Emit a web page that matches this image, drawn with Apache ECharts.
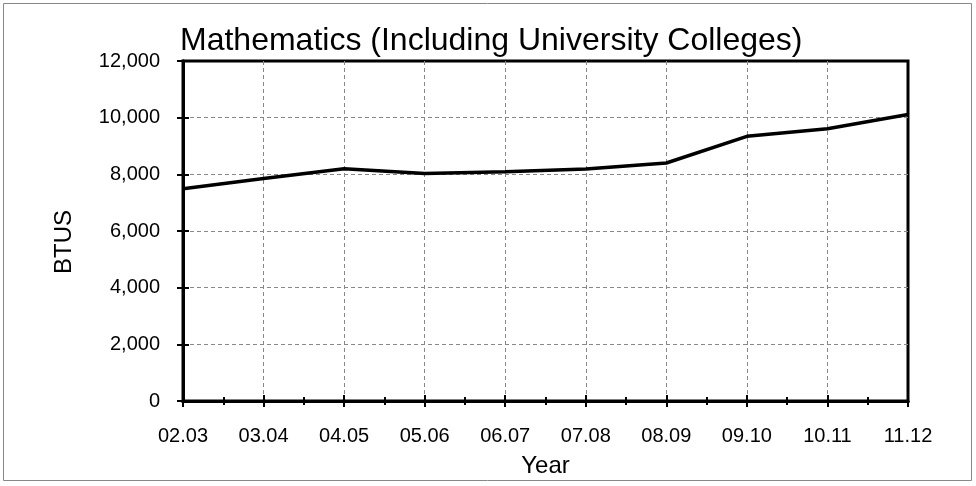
<!DOCTYPE html>
<html><head><meta charset="utf-8">
<script src="https://cdn.jsdelivr.net/npm/echarts@6/dist/echarts.min.js"></script>
<style>html,body{margin:0;padding:0;background:#fff}#c{width:976px;height:486px}</style>
</head><body><div id="c"></div>
<script>
const categories = ['02.03','03.04','04.05','05.06','06.07','07.08','08.09','09.10','10.11','11.12'];
const btus = [7490, 7850, 8200, 8030, 8090, 8190, 8400, 9340, 9610, 10110];
const yTicks = [0, 2000, 4000, 6000, 8000, 10000, 12000];

const FONT = '"Liberation Sans", Arial, sans-serif';
const chart = echarts.init(document.getElementById('c'), null, {renderer: 'canvas'});
const xBase = {
  type: 'value', min: 0, max: categories.length - 1, interval: 1, position: 'bottom',
  axisLine: {show: true, onZero: false, lineStyle: {color: '#000', width: 3}}
};
const yBase = {
  type: 'value', min: yTicks[0], max: yTicks[yTicks.length - 1], interval: yTicks[1] - yTicks[0], position: 'left',
  axisLine: {show: true, lineStyle: {color: '#000', width: 3}}
};
const split = {show: true, showMinLine: false, showMaxLine: false, lineStyle: {color: '#888', type: [4, 3], width: 1}};
chart.setOption({
  animation: false,
  title: {
    text: 'Mathematics (Including University Colleges)', left: 180, top: 25, padding: 0,
    textStyle: {fontFamily: FONT, fontSize: 32, fontWeight: 'normal', color: '#000'}
  },
  graphic: [
    {type: 'rect', shape: {x: 3.5, y: 3.5, width: 968, height: 477}, style: {fill: null, stroke: '#888', lineWidth: 1}},
    {type: 'text', x: 64, y: 242, rotation: Math.PI / 2,
      style: {text: 'BTUS', align: 'center', verticalAlign: 'middle', fill: '#000', font: '24px "Liberation Sans", Arial, sans-serif'}}
  ],
  grid: {left: 183, right: 68, top: 61, bottom: 85, show: true, borderColor: '#000', borderWidth: 3, backgroundColor: 'transparent'},
  xAxis: [
    Object.assign({}, xBase, {
      name: 'Year', nameLocation: 'middle', nameGap: 53,
      nameTextStyle: {fontFamily: FONT, fontSize: 24, color: '#000'},
      axisTick: {show: true, inside: false, length: 6, lineStyle: {color: '#000', width: 2}},
      minorTick: {show: true, splitNumber: 2, length: 4, lineStyle: {color: '#000', width: 2}},
      axisLabel: {fontFamily: FONT, fontSize: 20, color: '#000', margin: 25, formatter: v => categories[v] || ''},
      splitLine: split
    }),
    Object.assign({}, xBase, {
      axisTick: {show: true, inside: true, length: 6, lineStyle: {color: '#000', width: 2}},
      minorTick: {show: true, splitNumber: 2, length: 4, lineStyle: {color: '#000', width: 2}},
      axisLabel: {show: false}, splitLine: {show: false}
    })
  ],
  yAxis: [
    Object.assign({}, yBase, {
      axisTick: {show: true, inside: false, length: 6, lineStyle: {color: '#000', width: 2}},
      axisLabel: {fontFamily: FONT, fontSize: 20, color: '#000', margin: 23,
        formatter: v => v.toLocaleString('en-US')},
      splitLine: split
    }),
    Object.assign({}, yBase, {
      axisTick: {show: true, inside: true, length: 6, lineStyle: {color: '#000', width: 2}},
      axisLabel: {show: false}, splitLine: {show: false}
    })
  ],
  series: [{
    type: 'line', xAxisIndex: 0, yAxisIndex: 0,
    data: btus.map((v, i) => [i, v]),
    symbol: 'none', lineStyle: {color: '#000', width: 3.5}, z: 5
  }]
});
</script></body></html>
